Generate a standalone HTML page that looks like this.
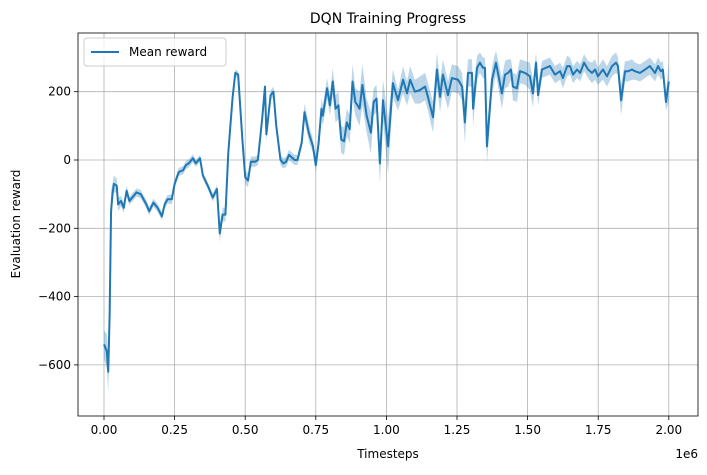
<!DOCTYPE html>
<html><head><meta charset="utf-8"><style>
body{margin:0;background:#fff;font-family:"Liberation Sans","DejaVu Sans",sans-serif}
svg text{font-family:"DejaVu Sans","Liberation Sans",sans-serif;fill:#000}
</style></head><body>
<svg id="c" width="707" height="470"></svg>
<script>
const xs=[0,0.01,0.015,0.02,0.025,0.03,0.035,0.045,0.05,0.06,0.07,0.08,0.09,0.10,0.115,0.13,0.15,0.16,0.175,0.19,0.205,0.215,0.225,0.24,0.25,0.265,0.28,0.29,0.30,0.315,0.325,0.34,0.35,0.37,0.385,0.40,0.41,0.42,0.43,0.44,0.455,0.465,0.475,0.49,0.50,0.51,0.52,0.535,0.545,0.56,0.57,0.575,0.59,0.60,0.61,0.625,0.635,0.645,0.655,0.675,0.685,0.70,0.71,0.725,0.74,0.75,0.76,0.77,0.775,0.79,0.80,0.81,0.82,0.83,0.84,0.85,0.86,0.87,0.88,0.89,0.905,0.915,0.93,0.945,0.955,0.965,0.977,0.988,1.006,1.023,1.041,1.059,1.073,1.084,1.101,1.119,1.137,1.147,1.165,1.179,1.19,1.2,1.218,1.232,1.254,1.268,1.278,1.289,1.303,1.307,1.321,1.331,1.342,1.349,1.356,1.374,1.388,1.409,1.42,1.431,1.441,1.448,1.462,1.473,1.491,1.508,1.519,1.53,1.537,1.551,1.579,1.597,1.615,1.625,1.64,1.65,1.661,1.675,1.686,1.7,1.714,1.728,1.739,1.749,1.767,1.781,1.799,1.813,1.82,1.831,1.845,1.856,1.87,1.88,1.898,1.916,1.933,1.951,1.962,1.972,1.979,1.99,2.0];
const ys=[-540,-560,-620,-450,-150,-100,-70,-75,-130,-120,-140,-90,-120,-110,-95,-100,-130,-150,-125,-140,-165,-130,-115,-115,-70,-35,-30,-15,-10,5,-10,5,-45,-80,-110,-85,-215,-160,-160,20,180,255,250,60,-50,-60,-5,-5,0,120,215,75,190,200,100,0,-10,-5,15,0,0,50,140,80,40,-15,50,150,130,210,160,230,150,160,60,55,110,90,230,170,150,220,130,80,170,180,-10,175,40,225,175,235,195,235,200,205,215,185,125,265,185,250,190,240,235,215,110,255,255,150,270,285,270,270,40,235,285,195,250,255,265,215,210,260,255,245,195,285,190,265,275,250,260,240,275,275,250,265,255,285,265,255,265,245,265,245,275,285,275,175,260,260,265,260,255,265,275,255,275,260,265,170,230];
const sd=[40,50,60,80,60,30,25,20,20,15,15,15,12,12,12,12,12,12,12,12,12,12,12,15,12,12,12,12,12,12,10,10,10,10,12,12,25,20,20,20,15,10,10,20,20,20,15,15,15,20,15,20,15,15,20,15,15,15,15,15,15,15,25,25,20,20,25,30,30,30,30,40,40,40,40,40,40,40,50,40,50,60,50,60,40,40,60,60,80,40,30,40,35,40,35,40,40,40,45,50,45,45,40,40,40,40,60,40,40,50,35,30,30,30,50,40,35,45,40,40,30,40,40,35,35,40,40,30,30,25,25,25,25,30,30,25,25,25,25,25,25,30,30,25,30,30,30,30,25,45,30,30,30,25,25,25,25,25,25,25,25,25,60,50];
const xTicks=[0,0.25,0.5,0.75,1,1.25,1.5,1.75,2];
const xLabels=["0.00","0.25","0.50","0.75","1.00","1.25","1.50","1.75","2.00"];
const yTicks=[-600,-400,-200,0,200];
const yLabels=["−600","−400","−200","0","200"];
const L=78,R=698,T=33,B=416;
const X=v=>104+v*282.4, Y=v=>160-v*0.3415;
const svg=document.getElementById('c');
const NS='http://www.w3.org/2000/svg';
function mk(t,a,p){const e=document.createElementNS(NS,t);for(const k in a)e.setAttribute(k,a[k]);(p||svg).appendChild(e);return e;}
const N=Math.min(xs.length,ys.length,sd.length);
const idx=[...Array(N).keys()];
let e=mk('text',{x:(L+R)/2,y:23,'text-anchor':'middle','font-size':14});e.textContent='DQN Training Progress';


xTicks.forEach((t,i)=>{const g=mk('g',{});


mk('line',{x1:X(t),x2:X(t),y1:T,y2:B,stroke:'#b0b0b0','stroke-width':0.8},g);
mk('line',{x1:X(t),x2:X(t),y1:B,y2:B+4,stroke:'#000','stroke-width':0.8},g);
const tx=mk('text',{x:X(t),y:B+18,'text-anchor':'middle','font-size':12},g);tx.textContent=xLabels[i];});
yTicks.forEach((t,i)=>{const g=mk('g',{});


mk('line',{x1:L,x2:R,y1:Y(t),y2:Y(t),stroke:'#b0b0b0','stroke-width':0.8},g);
mk('line',{x1:L-4,x2:L,y1:Y(t),y2:Y(t),stroke:'#000','stroke-width':0.8},g);
const tx=mk('text',{x:L-7,y:Y(t)+4,'text-anchor':'end','font-size':12},g);tx.textContent=yLabels[i];});
let up=idx.map(i=>X(xs[i])+','+Y(ys[i]+sd[i])), lo=idx.map(i=>X(xs[i])+','+Y(ys[i]-sd[i])).reverse();
e=mk('polygon',{points:up.concat(lo).join(' '),fill:'#1f77b4','fill-opacity':0.3});


e=mk('polyline',{points:idx.map(i=>X(xs[i])+','+Y(ys[i])).join(' '),fill:'none',stroke:'#1f77b4','stroke-width':2,'stroke-linejoin':'round'});


e=mk('rect',{x:L,y:T,width:R-L,height:B-T,fill:'none',stroke:'#000','stroke-width':0.8});


e=mk('text',{x:(L+R)/2,y:458,'text-anchor':'middle','font-size':12});e.textContent='Timesteps';


e=mk('text',{x:0,y:0,'text-anchor':'middle','font-size':12,transform:'translate(20,224) rotate(-90)'});e.textContent='Evaluation reward';


e=mk('text',{x:698,y:458,'text-anchor':'end','font-size':12});e.textContent='1e6';


const lg=mk('g',{});


mk('rect',{x:84,y:38,width:142,height:28,rx:3,fill:'#fff','fill-opacity':0.8,stroke:'#ccc'},lg);
mk('line',{x1:91,x2:119,y1:52,y2:52,stroke:'#1f77b4','stroke-width':2},lg);
e=mk('text',{x:129,y:56,'font-size':12},lg);e.textContent='Mean reward';


</script>
</body></html>
